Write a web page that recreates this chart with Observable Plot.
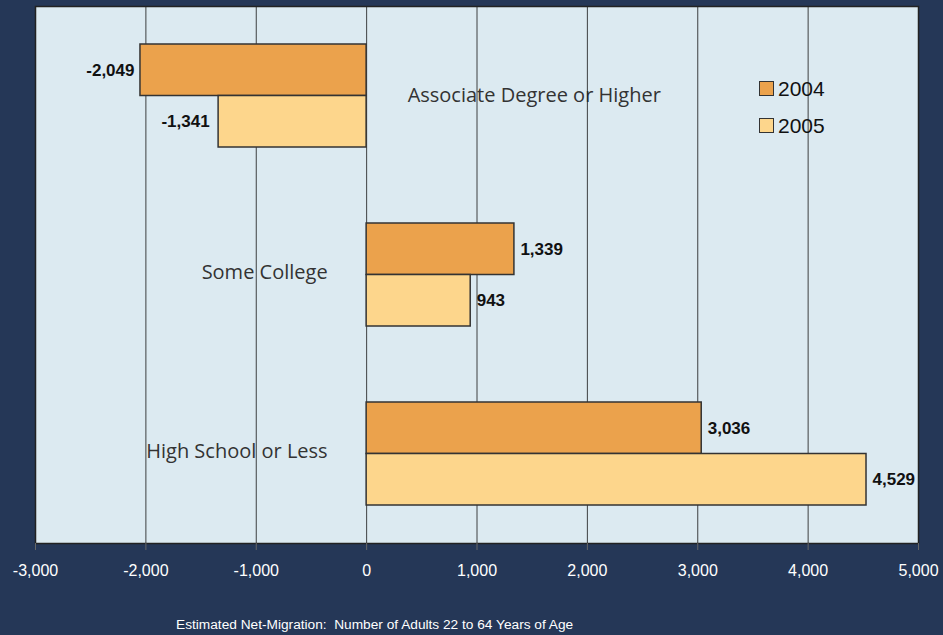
<!DOCTYPE html>
<html>
<head>
<meta charset="utf-8">
<script src="https://cdn.jsdelivr.net/npm/d3@7"></script>
<script src="https://cdn.jsdelivr.net/npm/@observablehq/plot@0.6"></script>
<style>
  html, body { margin: 0; padding: 0; background: #253757; }
  #wrap { position: relative; width: 943px; height: 635px; overflow: hidden; background: #253757; }
  #legend { position: absolute; left: 759px; top: 70px; font-family: Arial, "Liberation Sans", sans-serif; font-size: 21px; color: #111; }
  #legend .item { display: flex; align-items: center; height: 37px; }
  #legend .sw { width: 15px; height: 15px; border: 1.5px solid #333; margin-right: 4px; box-sizing: border-box; }
  #caption { position: absolute; left: 176px; top: 617px; font-family: Arial, "Liberation Sans", sans-serif; font-size: 13.7px; color: #fff; white-space: pre; }
</style>
</head>
<body>
<div id="wrap">
  <div id="chart"></div>
  <div id="legend"></div>
  <div id="caption">Estimated Net-Migration:  Number of Adults 22 to 64 Years of Age</div>
</div>
<script>
const categories = ["Associate Degree or Higher", "Some College", "High School or Less"];
const years = ["2004", "2005"];
const values2004 = [-2049, 1339, 3036];
const values2005 = [-1341, 943, 4529];
const xTicks = [-3000, -2000, -1000, 0, 1000, 2000, 3000, 4000, 5000];
const colors = ["#eba24c", "#fdd68c"];

const fmt = d => d.toLocaleString("en-US");
const rows2004 = categories.map((c, i) => ({category: c, year: "2004", value: values2004[i]}));
const rows2005 = categories.map((c, i) => ({category: c, year: "2005", value: values2005[i]}));
const catRows = categories.map((c, i) => ({category: c, side: i === 0 ? "right" : "left"}));

const half = 51.5;
const labelFont = {fontWeight: "bold", fontSize: 17, fill: "#111", fontFamily: "Arial, 'Liberation Sans', sans-serif"};
const catFont = {fontSize: 20, fill: "#333", fontFamily: "'Open Sans', sans-serif"};
const neg = rows => rows.filter(d => d.value < 0);
const pos = rows => rows.filter(d => d.value >= 0);

const chart = Plot.plot({
  width: 943,
  height: 600,
  marginLeft: 35,
  marginRight: 25,
  marginTop: 6,
  marginBottom: 57,
  style: {background: "transparent", overflow: "visible"},
  x: {domain: [-3000, 5000]},
  y: {domain: categories, paddingInner: 0.425, paddingOuter: 0.2125, axis: null},
  marks: [
    Plot.frame({fill: "#dceaf1"}),
    Plot.text(catRows.filter(d => d.side === "right"), {x: () => 0, y: "category", text: "category", textAnchor: "start", dx: 41, dy: 0, ...catFont}),
    Plot.text(catRows.filter(d => d.side === "left"), {x: () => 0, y: "category", text: "category", textAnchor: "end", dx: -39, dy: -2, ...catFont}),
    Plot.ruleX(xTicks, {stroke: "#222", strokeWidth: 1, strokeOpacity: 0.85}),
    Plot.barX(rows2004, {x: "value", y: "category", fill: colors[0], stroke: "#333", strokeWidth: 1.5, insetBottom: half}),
    Plot.barX(rows2005, {x: "value", y: "category", fill: colors[1], stroke: "#333", strokeWidth: 1.5, insetTop: half}),
    Plot.text(neg(rows2004), {x: "value", y: "category", text: d => fmt(d.value), dy: -half / 2, dx: -6, textAnchor: "end", ...labelFont}),
    Plot.text(pos(rows2004), {x: "value", y: "category", text: d => fmt(d.value), dy: -half / 2, dx: 6, textAnchor: "start", ...labelFont}),
    Plot.text(neg(rows2005), {x: "value", y: "category", text: d => fmt(d.value), dy: half / 2, dx: -9, textAnchor: "end", ...labelFont}),
    Plot.text(pos(rows2005), {x: "value", y: "category", text: d => fmt(d.value), dy: half / 2, dx: 6, textAnchor: "start", ...labelFont}),
    Plot.frame({stroke: "#222", strokeWidth: 1.5}),
    Plot.axisX(xTicks, {anchor: "bottom", tickFormat: fmt, tickSize: 7, tickPadding: 14, stroke: "#666", color: "#fff", fontSize: 16, fontFamily: "Arial, 'Liberation Sans', sans-serif", label: null})
  ]
});
document.getElementById("chart").appendChild(chart);

const legend = document.getElementById("legend");
years.forEach((y, i) => {
  const item = document.createElement("div");
  item.className = "item";
  const sw = document.createElement("div");
  sw.className = "sw";
  sw.style.background = colors[i];
  const t = document.createElement("span");
  t.textContent = y;
  item.appendChild(sw);
  item.appendChild(t);
  legend.appendChild(item);
});
</script>
</body>
</html>
